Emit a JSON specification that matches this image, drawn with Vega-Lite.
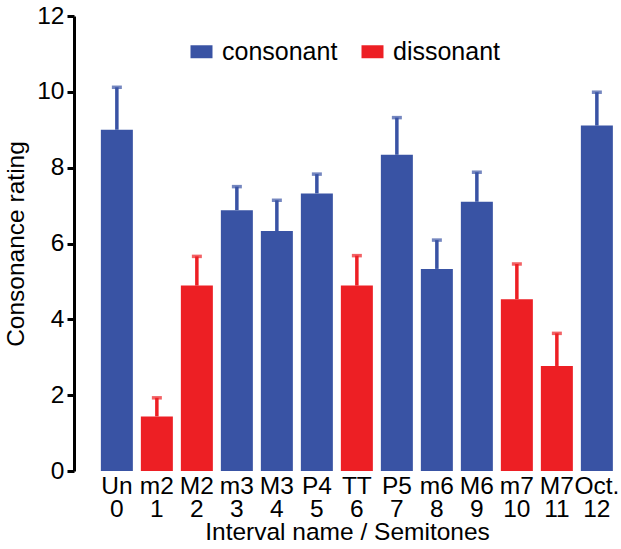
{
  "$schema": "https://vega.github.io/schema/vega-lite/v6.json",
  "autosize": "none",
  "width": 546,
  "height": 455,
  "padding": {"left": 74, "top": 16, "right": 1, "bottom": 78},
  "background": "white",
  "config": {
    "view": {"stroke": null},
    "font": "Liberation Sans",
    "axis": {"labelFont": "Liberation Sans", "titleFont": "Liberation Sans", "labelColor": "black", "titleColor": "black", "grid": false},
    "legend": {"labelFont": "Liberation Sans"}
  },
  "data": {
    "values": [
      {"interval": "Un|0", "type": "consonant", "rating": 9.0, "upper": 10.12},
      {"interval": "m2|1", "type": "dissonant", "rating": 1.44, "upper": 1.93},
      {"interval": "M2|2", "type": "dissonant", "rating": 4.89, "upper": 5.66},
      {"interval": "m3|3", "type": "consonant", "rating": 6.88, "upper": 7.5},
      {"interval": "M3|4", "type": "consonant", "rating": 6.33, "upper": 7.14},
      {"interval": "P4|5", "type": "consonant", "rating": 7.32, "upper": 7.83},
      {"interval": "TT|6", "type": "dissonant", "rating": 4.89, "upper": 5.68},
      {"interval": "P5|7", "type": "consonant", "rating": 8.34, "upper": 9.32},
      {"interval": "m6|8", "type": "consonant", "rating": 5.33, "upper": 6.09},
      {"interval": "M6|9", "type": "consonant", "rating": 7.1, "upper": 7.88},
      {"interval": "m7|10", "type": "dissonant", "rating": 4.53, "upper": 5.46},
      {"interval": "M7|11", "type": "dissonant", "rating": 2.77, "upper": 3.63},
      {"interval": "Oct.|12", "type": "consonant", "rating": 9.11, "upper": 9.99}
    ]
  },
  "encoding": {
    "x": {
      "field": "interval",
      "type": "nominal",
      "sort": null,
      "scale": {"paddingInner": 0.2, "paddingOuter": 0.425, "align": 0.79},
      "axis": {
        "title": "Interval name / Semitones",
        "titleFontSize": 24.5,
        "titleFontWeight": "normal",
        "titlePadding": 0,
        "labelExpr": "split(datum.label, '|')",
        "labelAngle": 0,
        "labelFontSize": 24.5,
        "labelLineHeight": 23,
        "labelPadding": 3,
        "domain": false,
        "ticks": false
      }
    },
    "color": {
      "field": "type",
      "type": "nominal",
      "scale": {"domain": ["consonant", "dissonant"], "range": ["#3953A4", "#ED1F24"]},
      "legend": {
        "title": null,
        "orient": "none",
        "direction": "horizontal",
        "legendX": 115,
        "legendY": 23,
        "symbolType": "M-1,-0.59H1V0.59H-1Z",
        "symbolSize": 484,
        "symbolStrokeWidth": 0,
        "symbolOpacity": 1,
        "labelFontSize": 25,
        "labelColor": "black",
        "labelOffset": 8,
        "columnPadding": 22
      }
    }
  },
  "layer": [
    {
      "mark": {"type": "rule", "strokeWidth": 3.5},
      "encoding": {
        "y": {"field": "rating", "type": "quantitative"},
        "y2": {"field": "upper"}
      }
    },
    {
      "mark": {"type": "tick", "size": 10, "thickness": 3.5},
      "encoding": {
        "y": {"field": "upper", "type": "quantitative"}
      }
    },
    {
      "mark": {"type": "bar", "opacity": 1},
      "encoding": {
        "y": {
          "field": "rating",
          "type": "quantitative",
          "scale": {"domain": [0, 12], "nice": false},
          "axis": {
            "title": "Consonance rating",
            "titleFontSize": 24.5,
            "titleFontWeight": "normal",
            "titlePadding": 8,
            "values": [0, 2, 4, 6, 8, 10, 12],
            "labelFontSize": 24.5,
            "labelPadding": 3,
            "tickSize": 7,
            "tickWidth": 3,
            "tickColor": "black",
            "domainWidth": 3,
            "domainColor": "black"
          }
        }
      }
    }
  ]
}
